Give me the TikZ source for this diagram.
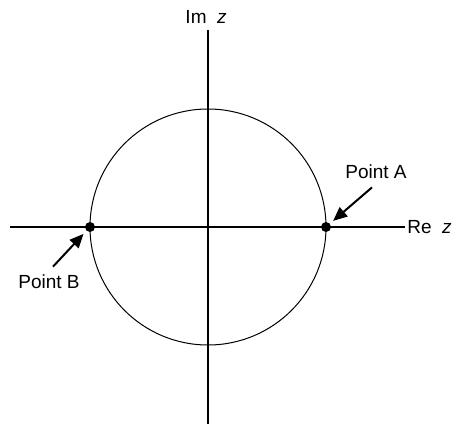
\documentclass[tikz,border=0pt]{standalone}
\usepackage{fontspec}
\setmainfont{Liberation Sans}
\usetikzlibrary{arrows.meta}

\begin{document}
\begin{tikzpicture}[x=0.5pt, y=-0.5pt, font=\fontsize{9.5}{11}\selectfont]
    \useasboundingbox (0,0) rectangle (460,424);
    % Axes
    \coordinate (xl) at (10,227);
    \coordinate (xr) at (405,227);
    \coordinate (yt) at (208,30);
    \coordinate (yb) at (208,424);
    \draw[line width=0.6pt] (xl) -- (xr);
    \draw[line width=0.6pt] (yt) -- (yb);
    \node[anchor=west, inner sep=1pt] (re) at (xr) {Re\hspace{0.55em}\textit{z}};
    \node[inner sep=1pt] (im) at (206,17) {Im\hspace{0.55em}\textit{z}};

    % Circle
    \draw[line width=0.5pt] (208,227) circle[radius=118];

    % Nodes
    \node[circle, fill, inner sep=0pt, minimum size=5pt] (ptA) at (326,227) {};
    \node[circle, fill, inner sep=0pt, minimum size=5pt] (ptB) at (90,227) {};
    \node[inner sep=1pt] (labA) at (376,172) {Point A};
    \node[inner sep=1pt] (labB) at (49,282) {Point B};

    % Pointers
    \draw[-{Triangle[length=7pt, width=6pt]}, line width=1pt, shorten >=2pt] ([xshift=-2pt, yshift=-3pt]labA.south) -- (ptA);
    \draw[-{Triangle[length=7pt, width=6pt]}, line width=1pt, shorten >=2pt] ([xshift=2pt, yshift=3pt]labB.north) -- (ptB);
\end{tikzpicture}
\end{document}
